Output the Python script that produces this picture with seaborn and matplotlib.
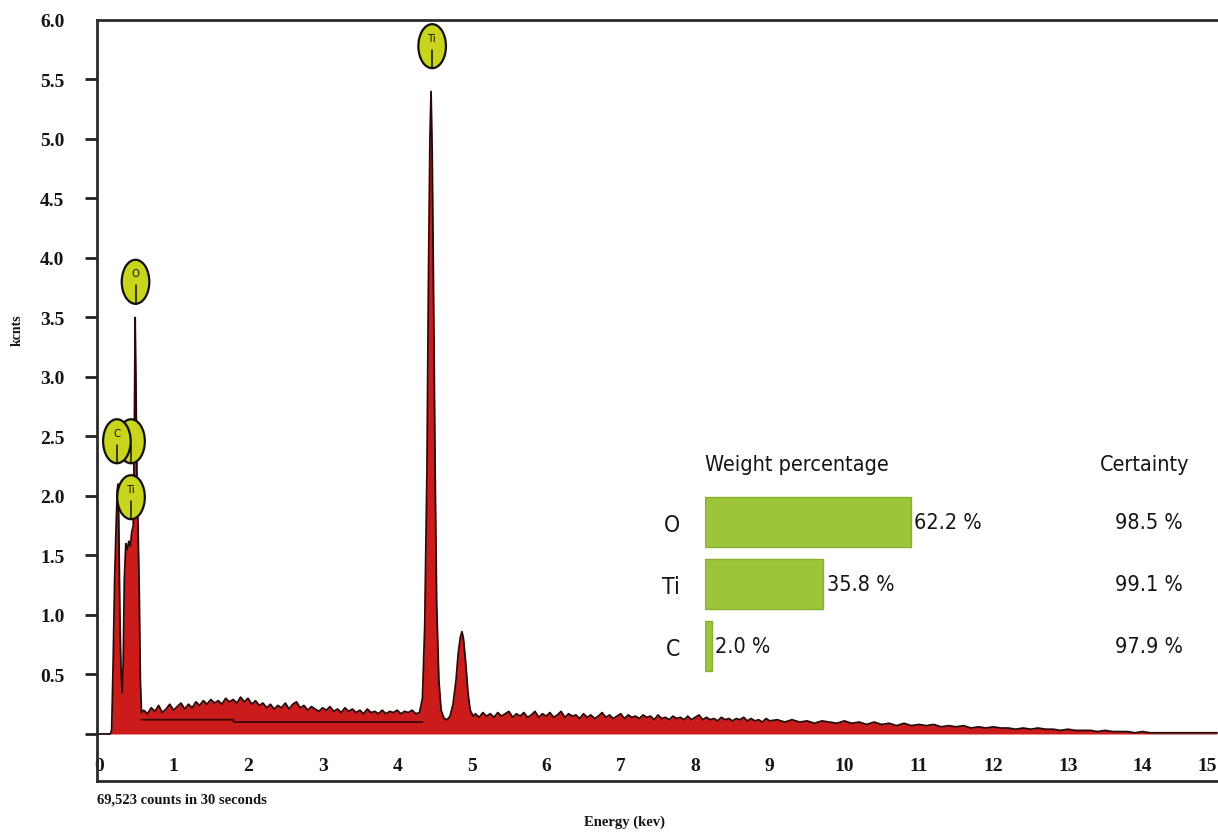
import matplotlib
matplotlib.use("Agg")
import matplotlib.pyplot as plt
import seaborn as sns
import numpy as np
import pandas as pd
from matplotlib.patches import Ellipse
from matplotlib import font_manager as fm
from matplotlib.font_manager import FontProperties

# ---------------- data ----------------
# low-energy peaks (C K, Ti L, O K)
energy_low = [0.00, 0.15, 0.17, 0.19, 0.21, 0.23, 0.245, 0.255, 0.265, 0.28, 0.295,
              0.31, 0.325, 0.34, 0.36, 0.38, 0.40, 0.42, 0.44, 0.46, 0.475, 0.485,
              0.495, 0.51, 0.525, 0.54, 0.555, 0.57]
kcnts_low = [0.00, 0.00, 0.03, 0.60, 1.30, 1.75, 2.05, 2.10, 1.80, 1.00, 0.55,
             0.35, 0.60, 1.30, 1.60, 1.55, 1.62, 1.58, 1.70, 1.75, 2.60, 3.50,
             3.00, 2.10, 1.70, 1.20, 0.45, 0.18]

# background 0.60 - 4.30 keV (0.05 keV steps)
energy_bg1 = [round(0.60 + 0.05 * i, 2) for i in range(75)]
kcnts_bg1 = [0.20, 0.17, 0.22, 0.19, 0.24, 0.18, 0.21, 0.25, 0.20, 0.23,
             0.26, 0.21, 0.25, 0.22, 0.27, 0.24, 0.28, 0.25, 0.29, 0.26,
             0.28, 0.25, 0.30, 0.27, 0.29, 0.26, 0.31, 0.27, 0.30, 0.25,
             0.28, 0.24, 0.26, 0.22, 0.25, 0.21, 0.24, 0.22, 0.26, 0.21,
             0.25, 0.27, 0.22, 0.24, 0.20, 0.23, 0.21, 0.19, 0.22, 0.20,
             0.23, 0.19, 0.21, 0.18, 0.22, 0.19, 0.21, 0.18, 0.20, 0.17,
             0.21, 0.18, 0.19, 0.17, 0.20, 0.17, 0.19, 0.18, 0.20, 0.17,
             0.19, 0.18, 0.20, 0.17, 0.18]

# Ti K alpha / K beta
energy_ti = [4.34, 4.37, 4.40, 4.42, 4.44, 4.455, 4.47, 4.49, 4.51, 4.53, 4.56,
             4.59, 4.63, 4.67, 4.71, 4.75, 4.79, 4.82, 4.85, 4.87, 4.89, 4.92,
             4.95, 4.98, 5.02]
kcnts_ti = [0.30, 0.90, 2.20, 3.80, 5.00, 5.40, 4.90, 3.60, 2.20, 1.10, 0.45,
            0.20, 0.13, 0.12, 0.15, 0.25, 0.45, 0.68, 0.82, 0.86, 0.80, 0.60,
            0.35, 0.20, 0.15]

# background 5.05 - 9.00 keV (0.05 keV steps)
energy_bg2 = [round(5.05 + 0.05 * i, 2) for i in range(80)]
kcnts_bg2 = [0.17, 0.14, 0.18, 0.15, 0.17, 0.14, 0.18, 0.15, 0.17, 0.19,
             0.14, 0.17, 0.15, 0.18, 0.14, 0.16, 0.19, 0.14, 0.17, 0.15,
             0.18, 0.14, 0.16, 0.19, 0.14, 0.17, 0.15, 0.16, 0.13, 0.17,
             0.14, 0.16, 0.13, 0.15, 0.18, 0.14, 0.16, 0.13, 0.15, 0.17,
             0.13, 0.16, 0.14, 0.15, 0.13, 0.16, 0.14, 0.15, 0.12, 0.16,
             0.13, 0.14, 0.12, 0.15, 0.13, 0.14, 0.12, 0.15, 0.12, 0.14,
             0.16, 0.12, 0.14, 0.12, 0.13, 0.11, 0.14, 0.12, 0.13, 0.11,
             0.13, 0.12, 0.14, 0.11, 0.13, 0.11, 0.12, 0.10, 0.13, 0.11]

# background 9.1 - 15.0 keV (0.1 keV steps)
energy_bg3 = [round(9.1 + 0.1 * i, 1) for i in range(60)]
kcnts_bg3 = [0.12, 0.10, 0.12, 0.10, 0.11, 0.09, 0.11, 0.10, 0.09, 0.11,
             0.09, 0.10, 0.08, 0.10, 0.08, 0.09, 0.07, 0.09, 0.07, 0.08,
             0.07, 0.08, 0.06, 0.07, 0.06, 0.07, 0.05, 0.06, 0.05, 0.06,
             0.05, 0.05, 0.04, 0.05, 0.04, 0.05, 0.04, 0.04, 0.03, 0.04,
             0.03, 0.03, 0.03, 0.02, 0.03, 0.02, 0.02, 0.02, 0.01, 0.02,
             0.01, 0.01, 0.01, 0.01, 0.01, 0.01, 0.01, 0.01, 0.01, 0.01]

# fitted background line
fit_energy = [0.57, 1.80, 1.81, 4.34]
fit_kcnts = [0.12, 0.12, 0.10, 0.10]

# peak identification markers: (symbol, energy, marker height)
peak_marks = [("", 0.43, 2.46), ("C", 0.24, 2.46), ("Ti", 0.43, 1.99),
              ("O", 0.49, 3.80), ("Ti", 4.47, 5.78)]

x_ticks = list(range(0, 16))
y_ticks = [0.0, 0.5, 1.0, 1.5, 2.0, 2.5, 3.0, 3.5, 4.0, 4.5, 5.0, 5.5, 6.0]
y_tick_labels = ["", "0.5", "1.0", "1.5", "2.0", "2.5", "3.0", "3.5", "4.0",
                 "4.5", "5.0", "5.5", "6.0"]

elements = ["O", "Ti", "C"]
weight_pct = [62.2, 35.8, 2.0]
certainty_pct = [98.5, 99.1, 97.9]

# ---------------- style ----------------
sns.set_theme(style="white")
plt.rcParams["font.family"] = ["Liberation Serif", "DejaVu Serif"]


def pick_sans():
    flist = fm.fontManager.ttflist
    for f in flist:
        if f.name == "Liberation Sans Narrow" and f.weight in (400, "normal", "regular") and f.style == "normal":
            return f.fname, True
    for f in flist:
        if f.name == "DejaVu Sans" and f.stretch in ("condensed", "semi-condensed") \
                and f.style == "normal" and f.weight in (400, "normal", "regular"):
            return f.fname, True
    for f in flist:
        if ("Condensed" in f.name or "Narrow" in f.name) and "Sans" in f.name \
                and f.style == "normal" and f.weight in (400, "normal", "regular"):
            return f.fname, True
    return None, False


sans_file, condensed = pick_sans()
inset_fs = 15.5 if condensed else 15


def sans_fp(size):
    if sans_file:
        return FontProperties(fname=sans_file, size=size)
    return FontProperties(family=["Liberation Sans", "DejaVu Sans"], size=size)


RED = "#cc1b1b"
EDGE = "#2a0808"
GREEN = "#9dc53b"
MARK = "#c9d41c"
TXT = "#151515"

W, H = 1218, 837
fig = plt.figure(figsize=(W / 100, H / 100), dpi=100)


def px_rect(l, t, r, b):
    return [l / W, 1 - b / H, (r - l) / W, (b - t) / H]


AX_L, AX_T, AX_R, AX_B = 97, 21, 1230, 782
X0_PX, X15_PX = 99, 1217
ppk = (X15_PX - X0_PX) / 15.0
ax = fig.add_axes(px_rect(AX_L, AX_T, AX_R, AX_B))

spec = pd.DataFrame({
    "energy": energy_low + energy_bg1 + energy_ti + energy_bg2 + energy_bg3,
    "kcnts": kcnts_low + kcnts_bg1 + kcnts_ti + kcnts_bg2 + kcnts_bg3,
})
ax.fill_between(spec["energy"], 0, spec["kcnts"], color=RED, lw=0, zorder=2)
sns.lineplot(data=spec, x="energy", y="kcnts", ax=ax, color=EDGE, lw=1.3,
             estimator=None, sort=False, zorder=3)
fit = pd.DataFrame({"energy": fit_energy, "kcnts": fit_kcnts})
sns.lineplot(data=fit, x="energy", y="kcnts", ax=ax, color="#3a0606", lw=1.3,
             estimator=None, sort=False, zorder=3)

ax.set_xlim((AX_L - X0_PX) / ppk, (AX_R - X0_PX) / ppk)
ax.set_ylim(-0.395, 6.0)
ax.set_xlabel("")
ax.set_ylabel("")

ax.set_xticks(x_ticks)
ax.set_xticklabels([str(v) for v in x_ticks])
ax.set_yticks(y_ticks)
ax.set_yticklabels(y_tick_labels)
ax.tick_params(axis="x", length=0, pad=-17, labelsize=14, labelcolor=TXT)
ax.tick_params(axis="y", left=True, length=8.5, width=2, color="#222222",
               pad=15, labelsize=14, labelcolor=TXT)
for lab in ax.get_xticklabels() + ax.get_yticklabels():
    lab.set_fontweight("bold")
ax.get_xticklabels()[-1].set_horizontalalignment("right")
ax.yaxis.get_major_ticks()[-1].tick1line.set_visible(False)
for s in ["left", "top", "bottom"]:
    ax.spines[s].set_linewidth(2)
    ax.spines[s].set_color("#2a2a2a")
ax.spines["right"].set_visible(False)

# peak markers
for sym, ex, ey in peak_marks:
    z = 4 if sym == "" else 6
    ax.add_patch(Ellipse((ex, ey), 0.37, 0.37, fc=MARK, ec="#111111", lw=1.6,
                         zorder=z))
    ax.plot([ex, ex], [ey - 0.03, ey - 0.185], color="#111111", lw=1.1, zorder=z)
    if sym:
        ax.text(ex, ey + 0.07, sym, ha="center", va="center",
                fontproperties=sans_fp(8), color="#111111", zorder=z + 1)

fig.text(17 / W, 1 - 330 / H, "kcnts", rotation=90, ha="center", va="center",
         fontsize=10, fontweight="bold", color=TXT)
fig.text(97 / W, 1 - 800 / H, "69,523 counts in 30 seconds", ha="left",
         va="center", fontsize=10.5, fontweight="bold", color=TXT)
fig.text(625 / W, 1 - 822 / H, "Energy (kev)", ha="center", va="center",
         fontsize=10.5, fontweight="bold", color=TXT)

# ---------------- inset: composition ----------------
ax_in = fig.add_axes(px_rect(705, 492, 1036, 678))
comp = pd.DataFrame({"element": elements, "weight": weight_pct,
                     "certainty": certainty_pct})
sns.barplot(data=comp, x="weight", y="element", orient="h", color=GREEN,
            saturation=1, width=0.8, edgecolor="#88b02c", linewidth=1, ax=ax_in)
ax_in.set_xlim(0, 100)
ax_in.set_ylim(2.5, -0.5)
ax_in.set_xlabel("")
ax_in.set_ylabel("")
ax_in.set_xticks([])
ax_in.patch.set_alpha(0)
for s in ax_in.spines.values():
    s.set_visible(False)
ax_in.tick_params(axis="y", length=0, pad=18, labelcolor=TXT)
for lab in ax_in.get_yticklabels():
    lab.set_fontproperties(sans_fp(inset_fs + 1))

for i, row in comp.iterrows():
    ax_in.text(row["weight"] + 1, i, f"{row['weight']:.1f} %", ha="left",
               va="center", fontproperties=sans_fp(inset_fs), color=TXT)
    ax_in.text(1.444, i, f"{row['certainty']:.1f} %", ha="right", va="center",
               fontproperties=sans_fp(inset_fs), color=TXT,
               transform=ax_in.get_yaxis_transform())

ax_in.text(0, 1 + 27 / 186, "Weight percentage", ha="left", va="center",
           fontproperties=sans_fp(inset_fs), color=TXT, transform=ax_in.transAxes)
ax_in.text(1.465, 1 + 27 / 186, "Certainty", ha="right", va="center",
           fontproperties=sans_fp(inset_fs), color=TXT, transform=ax_in.transAxes)

fig.savefig("out.png", dpi=100)
